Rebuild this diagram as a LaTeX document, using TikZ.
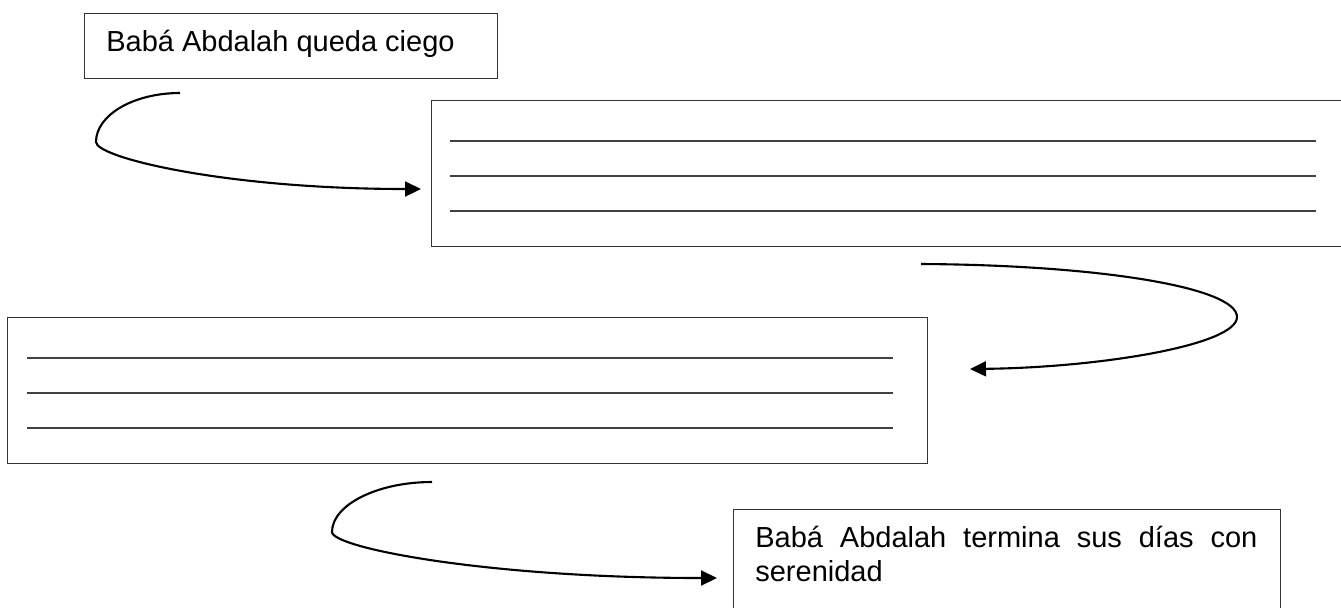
\documentclass[tikz,border=0pt]{standalone}
\usepackage{fontspec}
\setmainfont{Liberation Sans}
\usetikzlibrary{calc}
\usetikzlibrary{arrows.meta}
\tikzset{
    caja/.style={draw=black!80, line width=0.75pt, anchor=north west, inner sep=0pt},
    texto/.style={anchor=base west, inner sep=0pt, font=\fontsize{16.5}{19.9}\selectfont},
    raya/.style={draw=black!75, line width=0.8pt},
    flecha/.style={line width=1.2pt, -{Triangle[length=0.32cm,width=0.3cm]}}
}

\begin{document}
\begin{tikzpicture}[scale=1]
\useasboundingbox (0,0) rectangle (26.82,-12.14);
\foreach \x/\y/\w/\h/\p in {1.68/-0.26/8.26/1.3/ciego, 8.62/-2/19/2.92/hueco1, 0.14/-6.34/18.4/2.92/hueco2, 14.66/-10.18/10.94/3/sereno}{
    \node[caja, minimum width=\w cm, minimum height=\h cm] (\p) at (\x,\y) {};
}
\foreach \p/\dx in {hueco1/0.38, hueco2/0.4}
    \foreach \dy in {0.82,1.52,2.22}
        \draw[raya] ($(\p.north west)+(\dx,-\dy)$) -- ++(17.32,0);
\node[texto] (t-ciego) at ($(ciego.north west)+(0.44,-0.76)$) {Babá Abdalah queda ciego};
\node[texto, text width=10.04cm, align=justify] (t-sereno) at ($(sereno.north west)+(0.44,-0.76)$) {\hyphenpenalty=10000 Babá Abdalah termina sus días con serenidad};
\foreach \x/\y/\p in {3.6/-1.86/a1, 1.92/-2.84/b1, 8.42/-3.78/c1, 18.42/-5.28/a2, 24.74/-6.34/b2, 19.4/-7.38/c2, 8.64/-9.64/a3, 6.64/-10.64/b3, 14.34/-11.56/c3}{
    \coordinate (\p) at (\x,\y);
}
\draw[flecha] (a1) .. controls (2.67,-1.86) and (1.92,-2.3) .. (b1) .. controls (1.92,-3.15) and (4.5,-3.78) .. (c1);
\draw[flecha] (a2) .. controls (22,-5.3) and (24.74,-5.75) .. (b2) .. controls (24.74,-6.9) and (22,-7.35) .. (c2);
\draw[flecha] (a3) .. controls (7.54,-9.64) and (6.64,-10.1) .. (b3) .. controls (6.64,-10.95) and (9.7,-11.56) .. (c3);
\end{tikzpicture}
\end{document}
